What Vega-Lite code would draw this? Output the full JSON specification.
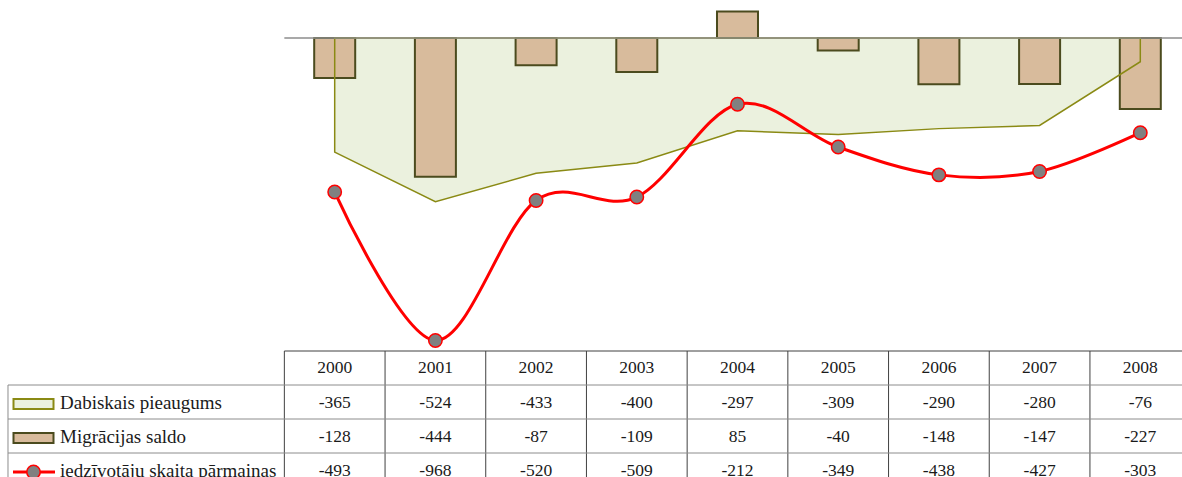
{
  "$schema": "https://vega.github.io/schema/vega-lite/v6.json",
  "width": 1182,
  "height": 477,
  "padding": 0,
  "autosize": {"type": "none"},
  "background": "white",
  "config": {"view": {"stroke": null}, "axis": {"disable": true}, "legend": {"disable": true}, "scale": {"continuousPadding": 0}},
  "data": {"values": [
    {"year": 2000, "series": "Dabiskais pieaugums", "value": -365},
    {"year": 2001, "series": "Dabiskais pieaugums", "value": -524},
    {"year": 2002, "series": "Dabiskais pieaugums", "value": -433},
    {"year": 2003, "series": "Dabiskais pieaugums", "value": -400},
    {"year": 2004, "series": "Dabiskais pieaugums", "value": -297},
    {"year": 2005, "series": "Dabiskais pieaugums", "value": -309},
    {"year": 2006, "series": "Dabiskais pieaugums", "value": -290},
    {"year": 2007, "series": "Dabiskais pieaugums", "value": -280},
    {"year": 2008, "series": "Dabiskais pieaugums", "value": -76},
    {"year": 2000, "series": "Migrācijas saldo", "value": -128},
    {"year": 2001, "series": "Migrācijas saldo", "value": -444},
    {"year": 2002, "series": "Migrācijas saldo", "value": -87},
    {"year": 2003, "series": "Migrācijas saldo", "value": -109},
    {"year": 2004, "series": "Migrācijas saldo", "value": 85},
    {"year": 2005, "series": "Migrācijas saldo", "value": -40},
    {"year": 2006, "series": "Migrācijas saldo", "value": -148},
    {"year": 2007, "series": "Migrācijas saldo", "value": -147},
    {"year": 2008, "series": "Migrācijas saldo", "value": -227},
    {"year": 2000, "series": "iedzīvotāju skaita pārmaiņas", "value": -493},
    {"year": 2001, "series": "iedzīvotāju skaita pārmaiņas", "value": -968},
    {"year": 2002, "series": "iedzīvotāju skaita pārmaiņas", "value": -520},
    {"year": 2003, "series": "iedzīvotāju skaita pārmaiņas", "value": -509},
    {"year": 2004, "series": "iedzīvotāju skaita pārmaiņas", "value": -212},
    {"year": 2005, "series": "iedzīvotāju skaita pārmaiņas", "value": -349},
    {"year": 2006, "series": "iedzīvotāju skaita pārmaiņas", "value": -438},
    {"year": 2007, "series": "iedzīvotāju skaita pārmaiņas", "value": -427},
    {"year": 2008, "series": "iedzīvotāju skaita pārmaiņas", "value": -303}
  ]},
  "resolve": {"scale": {"y": "independent"}},
  "layer": [
    {
      "layer": [
        {
          "transform": [{"filter": "datum.series === 'Dabiskais pieaugums'"}],
          "mark": {"type": "area", "fill": "#EBF1DE", "stroke": null},
          "encoding": {
            "x": {"field": "year", "type": "quantitative", "scale": {"domain": [1996.6763, 2008.4141], "nice": false, "zero": false, "padding": 0}},
            "y": {"field": "value", "type": "quantitative", "scale": {"domain": [-1404.8, 121.6], "nice": false, "zero": false, "padding": 0}},
            "y2": {"datum": 0}
          }
        },
        {
          "transform": [{"filter": "datum.series === 'Migrācijas saldo'"}],
          "mark": {"type": "bar", "width": 41, "fill": "#D8BB9C", "stroke": "#4B4B1E", "strokeWidth": 2, "orient": "vertical"},
          "encoding": {
            "x": {"field": "year", "type": "quantitative"},
            "y": {"field": "value", "type": "quantitative"},
            "y2": {"datum": 0}
          }
        },
        {
          "transform": [{"filter": "datum.series === 'Dabiskais pieaugums'"}],
          "mark": {"type": "area", "fill": "transparent", "stroke": "#8A8A14", "strokeWidth": 1.5},
          "encoding": {
            "x": {"field": "year", "type": "quantitative"},
            "y": {"field": "value", "type": "quantitative"},
            "y2": {"datum": 0}
          }
        },
        {
          "transform": [{"filter": "datum.series === 'Dabiskais pieaugums' && datum.year === 2000"}],
          "mark": {"type": "rule", "color": "#8C8C8C", "strokeWidth": 1.5},
          "encoding": {
            "x": {"datum": 1999.5},
            "x2": {"datum": 2008.5},
            "y": {"datum": 0}
          }
        },
        {
          "transform": [{"filter": "datum.series === 'iedzīvotāju skaita pārmaiņas'"}],
          "mark": {"type": "line", "color": "#FF0000", "strokeWidth": 3, "interpolate": "cardinal"},
          "encoding": {
            "x": {"field": "year", "type": "quantitative"},
            "y": {"field": "value", "type": "quantitative"}
          }
        },
        {
          "transform": [{"filter": "datum.series === 'iedzīvotāju skaita pārmaiņas'"}],
          "mark": {"type": "point", "shape": "circle", "filled": true, "size": 180, "fill": "#808080", "stroke": "#FF0000", "strokeWidth": 1.5, "opacity": 1},
          "encoding": {
            "x": {"field": "year", "type": "quantitative"},
            "y": {"field": "value", "type": "quantitative"}
          }
        }
      ]
    },
    {
      "layer": [
        {
          "transform": [{"filter": "datum.series === 'Dabiskais pieaugums'"}],
          "mark": {"type": "rule", "color": "#404040", "strokeWidth": 1, "xOffset": -50.35},
          "encoding": {
            "x": {"field": "year", "type": "quantitative"},
            "y": {"datum": " ", "type": "nominal", "bandPosition": 0, "scale": {"type": "band", "domain": [" ", "Dabiskais pieaugums", "Migrācijas saldo", "iedzīvotāju skaita pārmaiņas"], "range": [351, 487], "paddingInner": 0, "paddingOuter": 0}},
            "y2": {"datum": "iedzīvotāju skaita pārmaiņas", "bandPosition": 1}
          }
        },
        {
          "transform": [{"filter": "datum.series === 'Dabiskais pieaugums' && datum.year === 2000"}],
          "mark": {"type": "rule", "color": "#8C8C8C", "strokeWidth": 1},
          "encoding": {
            "x": {"datum": 1996.7557},
            "y": {"datum": "Dabiskais pieaugums", "type": "nominal", "bandPosition": 0},
            "y2": {"datum": "iedzīvotāju skaita pārmaiņas", "bandPosition": 1}
          }
        },
        {
          "transform": [{"filter": "datum.series === 'Dabiskais pieaugums' && datum.year === 2000"}],
          "mark": {"type": "rule", "color": "#404040", "strokeWidth": 1},
          "encoding": {
            "x": {"datum": 1999.5},
            "x2": {"datum": 2008.5},
            "y": {"datum": " ", "type": "nominal", "bandPosition": 0}
          }
        },
        {
          "transform": [{"filter": "datum.year === 2000"}],
          "mark": {"type": "rule", "color": "#8C8C8C", "strokeWidth": 1},
          "encoding": {
            "x": {"datum": 1996.7557},
            "x2": {"datum": 2008.5},
            "y": {"field": "series", "type": "nominal", "bandPosition": 0}
          }
        },
        {
          "transform": [{"filter": "datum.series === 'Dabiskais pieaugums'"}],
          "mark": {"type": "text", "font": "Liberation Serif", "fontSize": 17.5, "color": "#1A1A1A", "baseline": "middle", "align": "center"},
          "encoding": {
            "x": {"field": "year", "type": "quantitative"},
            "y": {"datum": " ", "type": "nominal"},
            "text": {"field": "year", "type": "nominal"}
          }
        },
        {
          "mark": {"type": "text", "font": "Liberation Serif", "fontSize": 17.5, "color": "#1A1A1A", "baseline": "middle", "align": "center", "dy": 1},
          "encoding": {
            "x": {"field": "year", "type": "quantitative"},
            "y": {"field": "series", "type": "nominal"},
            "text": {"field": "value", "type": "nominal"}
          }
        },
        {
          "transform": [{"filter": "datum.year === 2000"}],
          "mark": {"type": "text", "font": "Liberation Serif", "fontSize": 19, "color": "#1A1A1A", "baseline": "middle", "align": "left", "dy": 1},
          "encoding": {
            "x": {"datum": 1997.2721},
            "y": {"field": "series", "type": "nominal"},
            "text": {"field": "series", "type": "nominal"}
          }
        },
        {
          "transform": [{"filter": "datum.year === 2000 && datum.series === 'Dabiskais pieaugums'"}],
          "mark": {"type": "point", "shape": "M-1,-0.25H1V0.25H-1Z", "size": 1600, "filled": true, "fill": "#EBF1DE", "stroke": "#8A8A14", "strokeWidth": 2, "opacity": 1, "yOffset": 2},
          "encoding": {
            "x": {"datum": 1997.009},
            "y": {"field": "series", "type": "nominal"}
          }
        },
        {
          "transform": [{"filter": "datum.year === 2000 && datum.series === 'Migrācijas saldo'"}],
          "mark": {"type": "point", "shape": "M-1,-0.25H1V0.25H-1Z", "size": 1600, "filled": true, "fill": "#D8BB9C", "stroke": "#4B4B1E", "strokeWidth": 2, "opacity": 1, "yOffset": 2},
          "encoding": {
            "x": {"datum": 1997.009},
            "y": {"field": "series", "type": "nominal"}
          }
        },
        {
          "transform": [{"filter": "datum.year === 2000 && datum.series === 'iedzīvotāju skaita pārmaiņas'"}],
          "mark": {"type": "rule", "color": "#FF0000", "strokeWidth": 3, "yOffset": 2},
          "encoding": {
            "x": {"datum": 1996.8054},
            "x2": {"datum": 1997.2225},
            "y": {"field": "series", "type": "nominal"}
          }
        },
        {
          "transform": [{"filter": "datum.year === 2000 && datum.series === 'iedzīvotāju skaita pārmaiņas'"}],
          "mark": {"type": "point", "shape": "circle", "filled": true, "size": 180, "fill": "#808080", "stroke": "#FF0000", "strokeWidth": 1.5, "opacity": 1, "yOffset": 2},
          "encoding": {
            "x": {"datum": 1997.009},
            "y": {"field": "series", "type": "nominal"}
          }
        }
      ]
    }
  ]
}
